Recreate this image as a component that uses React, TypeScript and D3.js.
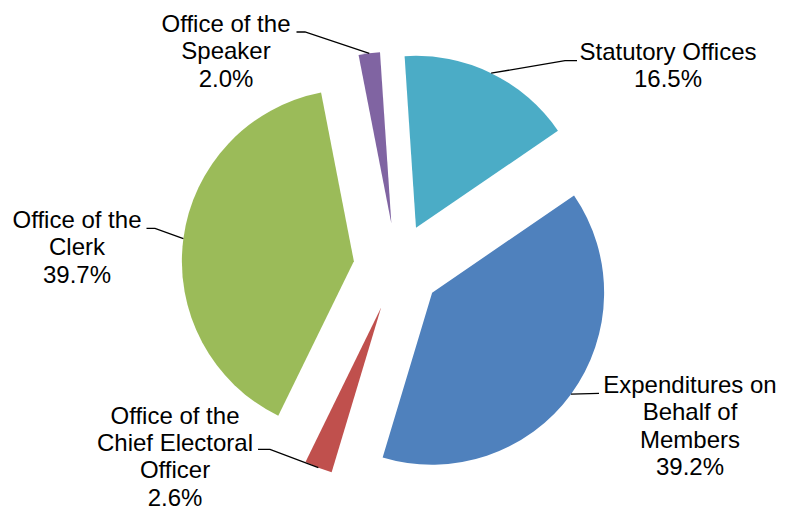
import React, { useEffect, useRef } from 'react';
import * as d3 from 'd3';

// slices in drawing order (clockwise)
const categories = [
  'Expenditures on Behalf of Members',
  'Office of the Chief Electoral Officer',
  'Office of the Clerk',
  'Office of the Speaker',
  'Statutory Offices',
];
const values = [39.2, 2.6, 39.7, 2.0, 16.5];
const colors = ['#4F81BD', '#C0504D', '#9BBB59', '#8064A2', '#4BACC6'];
const labelLines = [
  ['Expenditures on', 'Behalf of', 'Members'],
  ['Office of the', 'Chief Electoral', 'Officer'],
  ['Office of the', 'Clerk'],
  ['Office of the', 'Speaker'],
  ['Statutory Offices'],
];

// label placement: text centre x, first baseline y, leader y, leader start x (text side), elbow x
const labelPos = [
  { x: 690, y: 393, ly: 393.3, lx: 599, ex: 599 },
  { x: 175, y: 423.5, ly: 449.3, lx: 258, ex: 270 },
  { x: 77, y: 227.7, ly: 228.3, lx: 146.5, ex: 155 },
  { x: 226, y: 31.7, ly: 32, lx: 296.5, ex: 305 },
  { x: 668, y: 59.5, ly: 60.7, lx: 577, ex: 565 },
];

export default function App() {
  const ref = useRef<SVGSVGElement>(null);

  useEffect(() => {
    const width = 794, height = 510;
    const cx = 397, cy = 267;
    const radius = 172;
    const explode = 43.5;
    const start = (55.6 * Math.PI) / 180;

    const svg = d3.select(ref.current);
    svg.selectAll('*').remove();
    svg.attr('width', width).attr('height', height);

    const pie = d3.pie<number>().sort(null).value(d => d)
      .startAngle(start).endAngle(start + 2 * Math.PI);
    const arcs = pie(values);
    const arc = d3.arc<d3.PieArcDatum<number>>().innerRadius(0).outerRadius(radius);

    const g = svg.append('g').attr('transform', 'translate(' + cx + ',' + cy + ')');

    const mid = (d: d3.PieArcDatum<number>) => (d.startAngle + d.endAngle) / 2;
    const off = (d: d3.PieArcDatum<number>) => [Math.sin(mid(d)) * explode, -Math.cos(mid(d)) * explode];

    g.selectAll('path.slice')
      .data(arcs)
      .enter()
      .append('path')
      .attr('class', 'slice')
      .attr('fill', (d, i) => colors[i])
      .attr('transform', d => 'translate(' + off(d).join(',') + ')')
      .attr('d', d => arc(d));

    const total = d3.sum(values);
    const fmt = d3.format('.1f');

    arcs.forEach((d, i) => {
      const o = off(d);
      const a = mid(d);
      const px = cx + o[0] + Math.sin(a) * radius;
      const py = cy + o[1] - Math.cos(a) * radius;
      const p = labelPos[i];
      const pts: [number, number][] = [[p.lx, p.ly], [p.ex, p.ly], [px, py]];
      svg.append('path')
        .attr('d', d3.line()(pts))
        .attr('fill', 'none')
        .attr('stroke', '#000')
        .attr('stroke-width', 1.3);

      const lines = labelLines[i].concat([fmt((values[i] / total) * 100) + '%']);
      const t = svg.append('text')
        .attr('text-anchor', 'middle')
        .attr('font-family', '"Liberation Sans", Arial, sans-serif')
        .attr('font-size', 24)
        .attr('fill', '#000');
      lines.forEach((s, j) => {
        t.append('tspan')
          .attr('x', p.x)
          .attr('y', p.y + j * 27.4)
          .text(s);
      });
    });
  }, []);

  return (
    <svg ref={ref} style={{ position: 'absolute', left: 0, top: 0, background: '#fff' }} />
  );
}
